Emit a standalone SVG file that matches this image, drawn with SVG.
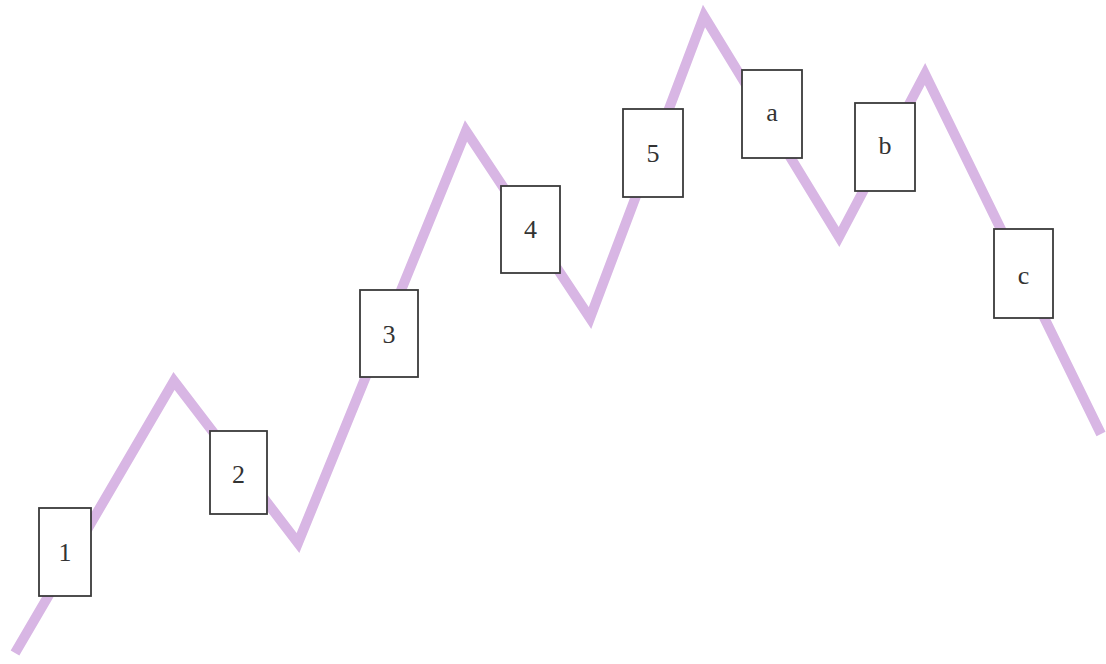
<svg xmlns="http://www.w3.org/2000/svg" width="1106" height="664" viewBox="0 0 1106 664">
<style>
.wave{fill:none;stroke:#d8b6e4;stroke-width:10;stroke-linejoin:miter;stroke-linecap:butt}
.box{fill:#ffffff;stroke:#3a3a3a;stroke-width:1.8}
.lbl{font-family:"Liberation Serif","DejaVu Serif",serif;font-size:26px;fill:#333333;text-anchor:middle;dominant-baseline:central}
</style>
<rect width="1106" height="664" fill="#ffffff"/>
<g id="connectors">
<polyline class="wave" points="15,653 174,381 298,543 466,131 590,318 704,16 839,237 925,74 1101,434"/>
</g>
<g id="node-1"><rect class="box" x="39" y="508" width="52" height="88"/><text class="lbl" x="65" y="552">1</text></g>
<g id="node-2"><rect class="box" x="210" y="431" width="57" height="83"/><text class="lbl" x="238.5" y="474">2</text></g>
<g id="node-3"><rect class="box" x="360" y="290" width="58" height="87"/><text class="lbl" x="389" y="334">3</text></g>
<g id="node-4"><rect class="box" x="501" y="186" width="59" height="87"/><text class="lbl" x="530.5" y="229">4</text></g>
<g id="node-5"><rect class="box" x="623" y="109" width="60" height="88"/><text class="lbl" x="653" y="153">5</text></g>
<g id="node-a"><rect class="box" x="742" y="70" width="60" height="88"/><text class="lbl" x="772" y="112">a</text></g>
<g id="node-b"><rect class="box" x="855" y="103" width="60" height="88"/><text class="lbl" x="885" y="145">b</text></g>
<g id="node-c"><rect class="box" x="994" y="229" width="59" height="89"/><text class="lbl" x="1023.5" y="275">c</text></g>
</svg>
